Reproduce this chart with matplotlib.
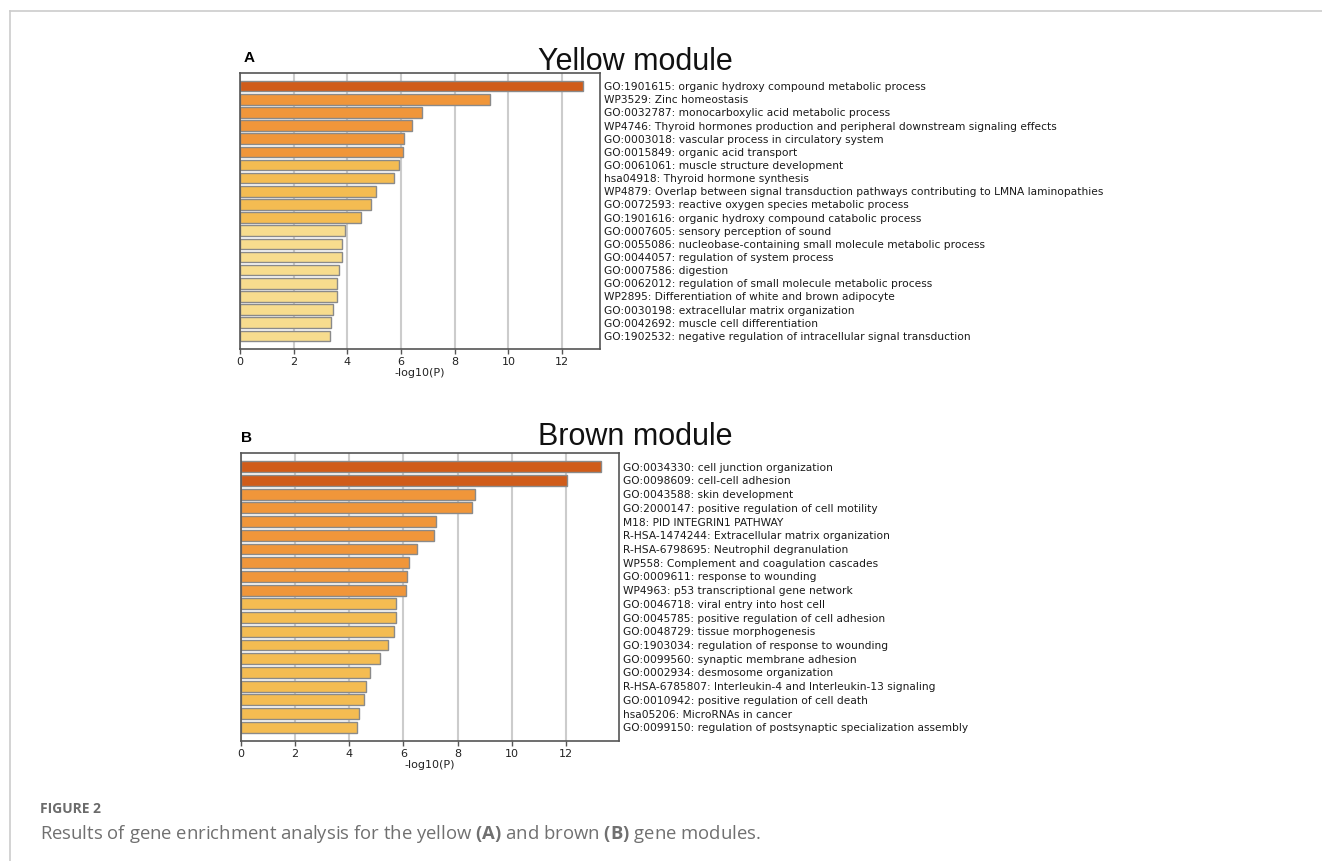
import matplotlib
matplotlib.use("Agg")
import matplotlib.pyplot as plt
import numpy as np
from matplotlib.lines import Line2D

# Enrichment terms and -log10(P) values.
yellow_terms = [
    "GO:1901615: organic hydroxy compound metabolic process",
    "WP3529: Zinc homeostasis",
    "GO:0032787: monocarboxylic acid metabolic process",
    "WP4746: Thyroid hormones production and peripheral downstream signaling effects",
    "GO:0003018: vascular process in circulatory system",
    "GO:0015849: organic acid transport",
    "GO:0061061: muscle structure development",
    "hsa04918: Thyroid hormone synthesis",
    "WP4879: Overlap between signal transduction pathways contributing to LMNA laminopathies",
    "GO:0072593: reactive oxygen species metabolic process",
    "GO:1901616: organic hydroxy compound catabolic process",
    "GO:0007605: sensory perception of sound",
    "GO:0055086: nucleobase-containing small molecule metabolic process",
    "GO:0044057: regulation of system process",
    "GO:0007586: digestion",
    "GO:0062012: regulation of small molecule metabolic process",
    "WP2895: Differentiation of white and brown adipocyte",
    "GO:0030198: extracellular matrix organization",
    "GO:0042692: muscle cell differentiation",
    "GO:1902532: negative regulation of intracellular signal transduction",
]
yellow_values = [12.77, 9.30, 6.78, 6.40, 6.12, 6.06, 5.91, 5.74, 5.05, 4.89,
                 4.51, 3.92, 3.81, 3.81, 3.70, 3.63, 3.61, 3.46, 3.40, 3.36]

brown_terms = [
    "GO:0034330: cell junction organization",
    "GO:0098609: cell-cell adhesion",
    "GO:0043588: skin development",
    "GO:2000147: positive regulation of cell motility",
    "M18: PID INTEGRIN1 PATHWAY",
    "R-HSA-1474244: Extracellular matrix organization",
    "R-HSA-6798695: Neutrophil degranulation",
    "WP558: Complement and coagulation cascades",
    "GO:0009611: response to wounding",
    "WP4963: p53 transcriptional gene network",
    "GO:0046718: viral entry into host cell",
    "GO:0045785: positive regulation of cell adhesion",
    "GO:0048729: tissue morphogenesis",
    "GO:1903034: regulation of response to wounding",
    "GO:0099560: synaptic membrane adhesion",
    "GO:0002934: desmosome organization",
    "R-HSA-6785807: Interleukin-4 and Interleukin-13 signaling",
    "GO:0010942: positive regulation of cell death",
    "hsa05206: MicroRNAs in cancer",
    "GO:0099150: regulation of postsynaptic specialization assembly",
]
brown_values = [13.30, 12.04, 8.65, 8.52, 7.21, 7.13, 6.51, 6.19, 6.13, 6.09,
                5.74, 5.71, 5.67, 5.44, 5.14, 4.78, 4.62, 4.55, 4.37, 4.30]

x_ticks = [0, 2, 4, 6, 8, 10, 12]

plt.rcParams["mathtext.fontset"] = "custom"
plt.rcParams["mathtext.rm"] = "Open Sans"
plt.rcParams["mathtext.bf"] = "Open Sans:bold"


def bar_color(v):
    # Metascape style bins on -log10(P).
    if v >= 10:
        return "#D05C1A"
    if v >= 6:
        return "#F0963A"
    if v >= 4:
        return "#F4BC52"
    return "#F7DC8E"


def draw_panel(ax, terms, values):
    y = np.arange(len(terms))
    ax.set_axisbelow(True)
    ax.grid(axis="x", color="#cccccc", linewidth=1.5)
    ax.barh(y, values, height=0.8, color=[bar_color(v) for v in values],
            edgecolor="#8a8a8a", linewidth=1.0)
    ax.set_xlim(0, max(values) * 1.05)
    ax.set_ylim(len(terms), -1)
    ax.set_xticks(x_ticks)
    ax.set_yticks(y)
    ax.set_yticklabels(terms)
    ax.yaxis.tick_right()
    ax.tick_params(axis="y", length=0, pad=3, labelsize=7.7, labelcolor="#1a1a1a")
    ax.tick_params(axis="x", length=3.5, width=1, color="#555555",
                   labelsize=8, labelcolor="#222222", pad=2)
    ax.set_xlabel("-log10(P)", fontsize=8, color="#222222", labelpad=1)
    for s in ax.spines.values():
        s.set_color("#555555")
        s.set_linewidth(1.2)


fig = plt.figure(figsize=(13.22, 8.61), dpi=100)
W, H = 1322, 861

ax_a = fig.add_axes([240 / W, 1 - 349 / H, 360 / W, 276 / H])
draw_panel(ax_a, yellow_terms, yellow_values)
ax_b = fig.add_axes([241 / W, 1 - 741 / H, 378 / W, 288 / H])
draw_panel(ax_b, brown_terms, brown_values)

title_font = ["Liberation Sans", "DejaVu Sans"]
fig.text(635 / W, 1 - 70 / H, "Yellow module", fontsize=22, family=title_font,
         ha="center", va="baseline", color="#111111")
fig.text(635 / W, 1 - 445 / H, "Brown module", fontsize=22, family=title_font,
         ha="center", va="baseline", color="#111111")
fig.text(244 / W, 1 - 62 / H, "A", fontsize=11, fontweight="bold",
         family=title_font, ha="left", va="baseline")
fig.text(241 / W, 1 - 442 / H, "B", fontsize=11, fontweight="bold",
         family=title_font, ha="left", va="baseline")

# Page frame lines (top and left).
fig.add_artist(Line2D([10 / W, 1], [1 - 11 / H, 1 - 11 / H], color="#cccccc",
                      linewidth=1.2, transform=fig.transFigure))
fig.add_artist(Line2D([10 / W, 10 / W], [0, 1 - 11 / H], color="#cccccc",
                      linewidth=1.2, transform=fig.transFigure))

cap_font = ["Open Sans", "DejaVu Sans"]
fig.text(40 / W, 1 - 813 / H, "FIGURE 2", fontsize=10, family=cap_font,
         fontweight="bold", color="#6b6b6b", ha="left", va="baseline")
fig.text(40 / W, 1 - 839 / H,
         r"Results of gene enrichment analysis for the yellow $\mathbf{(A)}$ "
         r"and brown $\mathbf{(B)}$ gene modules.",
         fontsize=13.3, family=cap_font, color="#707070",
         ha="left", va="baseline")

fig.savefig("out.png", dpi=100)
